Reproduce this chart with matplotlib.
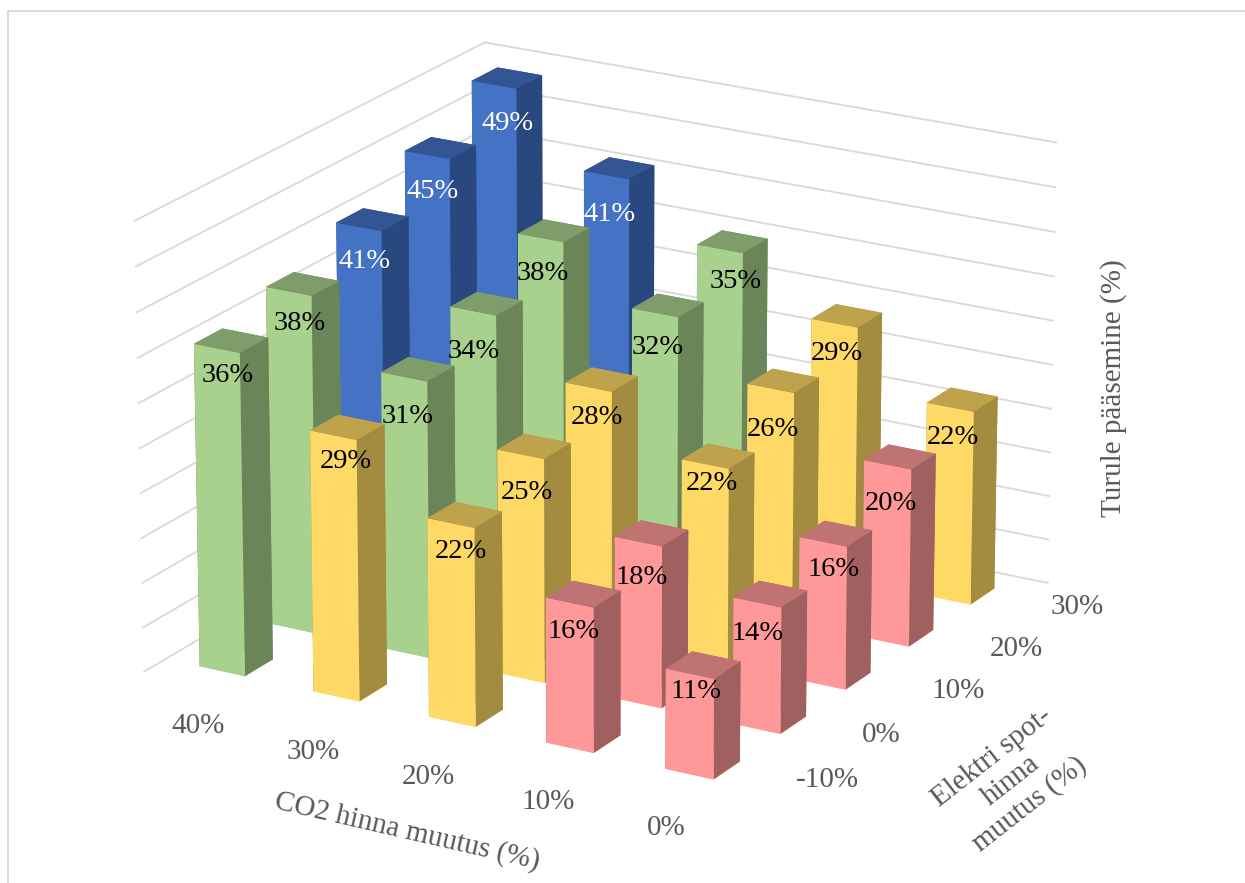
import matplotlib
matplotlib.use('Agg')
import matplotlib.pyplot as plt
from matplotlib.lines import Line2D
from matplotlib.transforms import offset_copy
from mpl_toolkits.mplot3d import proj3d

co2_labels = ['40%', '30%', '20%', '10%', '0%']
elec_labels = ['-10%', '0%', '10%', '20%', '30%']

# turule paasemine (%), one row per elektri hinna muutus, columns follow co2_labels
row_m10 = [36, 29, 22, 16, 11]
row_0 = [38, 31, 25, 18, 14]
row_10 = [41, 34, 28, 22, 16]
row_20 = [45, 38, 32, 26, 20]
row_30 = [49, 41, 35, 29, 22]
rows = [row_m10, row_0, row_10, row_20, row_30]

grid_levels = [0, 5, 10, 15, 20, 25, 30, 35, 40, 45, 50]

# tick label centres in pixels, from the top left
co2_tick_px = [(198, 726), (313, 752), (428, 777), (548, 802), (666, 828)]
elec_tick_px = [(827, 780), (881, 735), (958, 691), (1016, 649), (1077, 607)]

# hand placement of the value labels, pixels right and down from the bar anchor
nudge_x = [
	[-1, 1, -1, -6, -4],
	[0, -7, -4, -7, -9],
	[-5, -10, -2, -3, 1],
	[-5, -8, -7, -7, -5],
	[3, -7, 7, -7, -6],
]
nudge_y = [
	[-1, -1, 1, 2, -9],
	[5, 12, 11, 9, 4],
	[7, 13, 3, -7, 1],
	[9, 8, 8, 14, 12],
	[11, 12, 6, 3, 4],
]

W, H = 1245, 883
BAR_X = 0.4
BAR_Y = 0.39
GRID = '#d9d9d9'
TICK = '#595959'

# colours by value band: front, top, side
blue = ('#4472c4', '#335593', '#2a4880')
green = ('#a9d18e', '#7f9d6b', '#6a8659')
yellow = ('#ffd966', '#bfa34c', '#a38b40')
pink = ('#ff9999', '#bf7373', '#a16060')

def band(value):
	if value > 40:
		return blue
	if value > 30:
		return green
	if value > 20:
		return yellow
	return pink

def px_text(fig, x, y, text, **kwargs):
	fig.text(x / W, 1 - y / H, text, color=TICK, fontsize=21, ha='center', va='center', **kwargs)

def draw_walls(ax):
	for level in grid_levels:
		ax.plot([0, 0], [0, 5], [level, level], color=GRID, linewidth=1.3, zorder=1)
		ax.plot([0, 5], [5, 5], [level, level], color=GRID, linewidth=1.3, zorder=1)

def draw_bars(ax):
	order = 10
	# back row first, so nearer bars paint over it
	for j in range(4, -1, -1):
		for i in range(5):
			value = rows[j][i]
			front, top, side = band(value)
			faces = [front, top, front, side, side, side]
			ax.bar3d(i + 0.3, j + 0.3, 0, BAR_X, BAR_Y, value, color=faces, shade=False, linewidth=0, zorder=order)
			order += 1

def draw_labels(ax):
	# labels sit flat on top of everything, so project the anchor and place them in 2D
	proj = ax.get_proj()
	for j in range(5):
		for i in range(5):
			value = rows[j][i]
			color = 'white' if value > 40 else 'black'
			x2d, y2d, _ = proj3d.proj_transform(i + 0.47, j + 0.5, value - 4, proj)
			shifted = offset_copy(ax.transData, fig=fig, x=nudge_x[j][i], y=-nudge_y[j][i], units='dots')
			ax.text2D(x2d, y2d, f'{value}%', color=color, fontsize=20.5,
				ha='center', va='center', zorder=100, transform=shifted)

plt.rcParams['font.family'] = ['Liberation Serif', 'DejaVu Serif']

fig = plt.figure(figsize=(W / 100, H / 100), dpi=100)
ax = fig.add_axes([75.2 / W, -49.9 / H, 1026 / W, 1026 / H], projection='3d', computed_zorder=False)
ax.set_proj_type('persp', focal_length=1.5)
ax.view_init(elev=20, azim=-60)
ax.set_box_aspect((5, 5, 3.55))
ax.set_xlim(0, 5)
ax.set_ylim(0, 5)
ax.set_zlim(0, 50)
ax.set_axis_off()
ax.patch.set_alpha(0)

draw_walls(ax)
draw_bars(ax)
draw_labels(ax)

for (x, y), label in zip(co2_tick_px, co2_labels):
	px_text(fig, x, y, label)
for (x, y), label in zip(elec_tick_px, elec_labels):
	px_text(fig, x, y, label)

px_text(fig, 1114, 388, 'Turule pääsemine (%)', rotation=90)
px_text(fig, 407, 831, 'CO2 hinna muutus (%)', rotation=-13, rotation_mode='anchor')
px_text(fig, 1011, 781, 'Elektri spot-\nhinna\nmuutus (%)', rotation=38, multialignment='center', rotation_mode='anchor')

# chart frame, top and left edges
fig.add_artist(Line2D([8 / W, 1], [1 - 11 / H, 1 - 11 / H], color=GRID, linewidth=1.3))
fig.add_artist(Line2D([8 / W, 8 / W], [0, 1 - 11 / H], color=GRID, linewidth=1.3))

fig.savefig('out.png', dpi=100)
